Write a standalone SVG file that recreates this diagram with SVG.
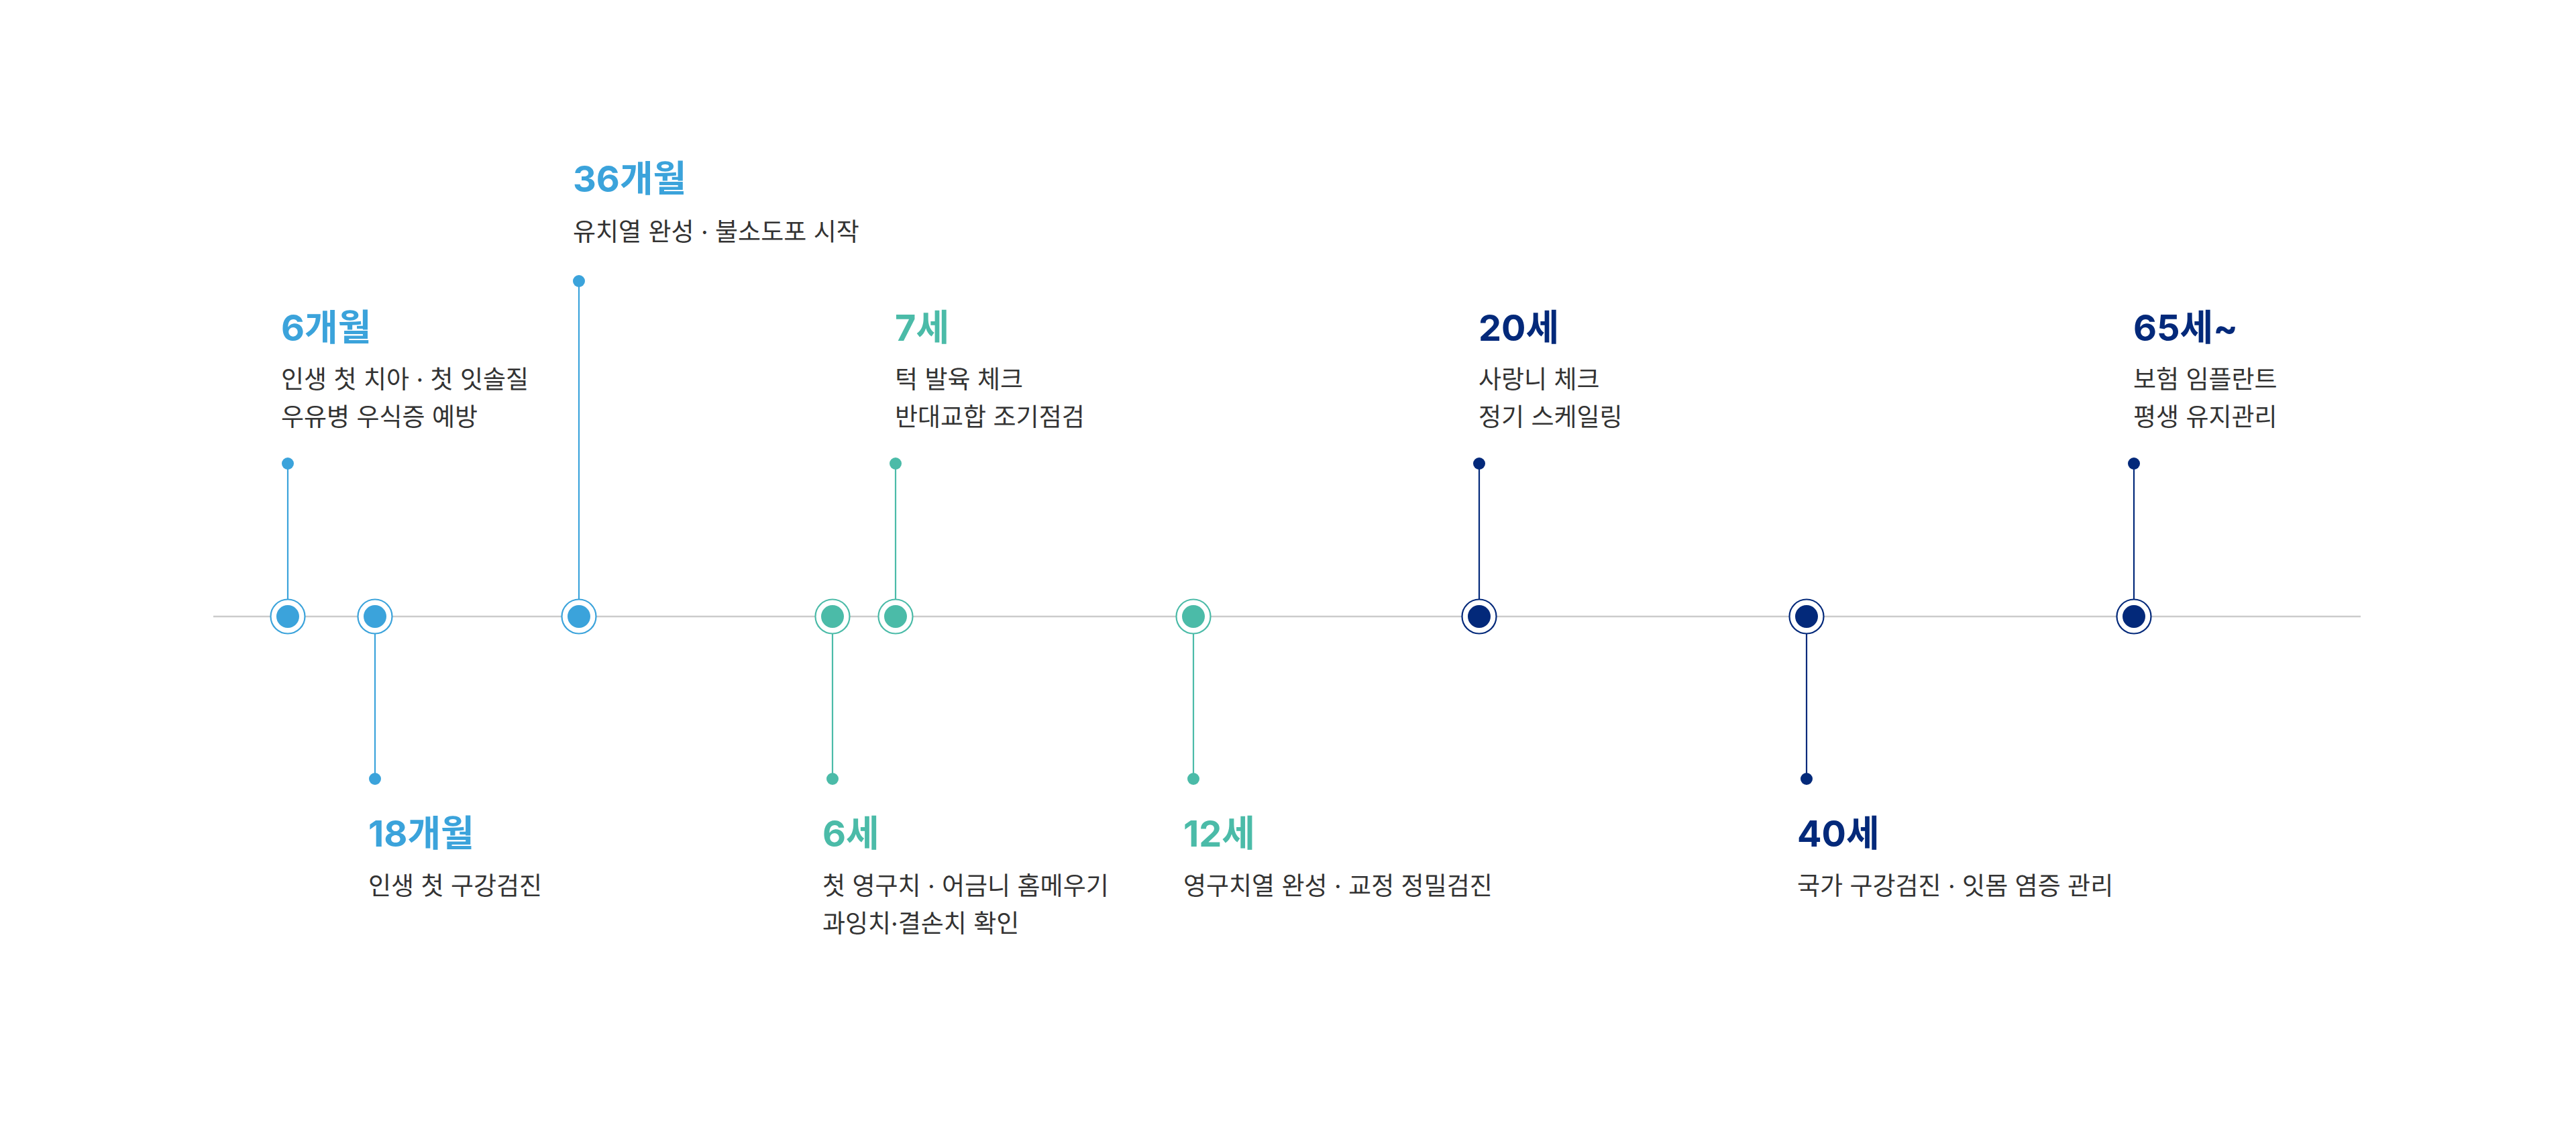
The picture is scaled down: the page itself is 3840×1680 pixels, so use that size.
<svg xmlns="http://www.w3.org/2000/svg" width="3840" height="1680" viewBox="0 0 3840 1680">
<style>
.axis{stroke:#cccccc;stroke-width:2.5;fill:none}
.ring{fill:#ffffff;stroke-width:2.2}
.stem{stroke-width:2.2;fill:none}
.t{font-family:Inter,'Noto Sans CJK KR',sans-serif;font-weight:700;font-size:54px}
.d{font-family:Inter,'Noto Sans CJK KR',sans-serif;font-weight:400;font-size:37px;fill:#333333}
.blue{fill:#3ba3db}
.teal{fill:#4bbba8}
.navy{fill:#03297a}
.sblue{stroke:#3ba3db}
.steal{stroke:#4bbba8}
.snavy{stroke:#03297a}
</style>
<rect width="3840" height="1680" fill="#ffffff"/>
<g id="timeline-axis">
<line class="axis" x1="318" y1="919" x2="3519" y2="919"/>
</g>
<g id="connectors">
<line class="stem sblue" x1="429" y1="691" x2="429" y2="893"/>
<line class="stem sblue" x1="559" y1="945" x2="559" y2="1161"/>
<line class="stem sblue" x1="863" y1="419" x2="863" y2="893"/>
<line class="stem steal" x1="1241" y1="945" x2="1241" y2="1161"/>
<line class="stem steal" x1="1335" y1="691" x2="1335" y2="893"/>
<line class="stem steal" x1="1779" y1="945" x2="1779" y2="1161"/>
<line class="stem snavy" x1="2205" y1="691" x2="2205" y2="893"/>
<line class="stem snavy" x1="2693" y1="945" x2="2693" y2="1161"/>
<line class="stem snavy" x1="3181" y1="691" x2="3181" y2="893"/>
</g>
<g id="node-6m">
<circle class="ring sblue" cx="429" cy="919" r="25.5"/><circle class="blue" cx="429" cy="919" r="17"/>
<circle class="blue" cx="429" cy="691" r="9"/>
<text class="t blue" x="419" y="508">6개월</text>
<text class="d" x="419" y="579">인생 첫 치아 · 첫 잇솔질</text>
<text class="d" x="419" y="635">우유병 우식증 예방</text>
</g>
<g id="node-18m">
<circle class="ring sblue" cx="559" cy="919" r="25.5"/><circle class="blue" cx="559" cy="919" r="17"/>
<circle class="blue" cx="559" cy="1161" r="9"/>
<text class="t blue" x="549" y="1262">18개월</text>
<text class="d" x="549" y="1334">인생 첫 구강검진</text>
</g>
<g id="node-36m">
<circle class="ring sblue" cx="863" cy="919" r="25.5"/><circle class="blue" cx="863" cy="919" r="17"/>
<circle class="blue" cx="863" cy="419" r="9"/>
<text class="t blue" x="854" y="286">36개월</text>
<text class="d" x="854" y="359">유치열 완성 · 불소도포 시작</text>
</g>
<g id="node-6y">
<circle class="ring steal" cx="1241" cy="919" r="25.5"/><circle class="teal" cx="1241" cy="919" r="17"/>
<circle class="teal" cx="1241" cy="1161" r="9"/>
<text class="t teal" x="1226" y="1262">6세</text>
<text class="d" x="1226" y="1334">첫 영구치 · 어금니 홈메우기</text>
<text class="d" x="1226" y="1390">과잉치·결손치 확인</text>
</g>
<g id="node-7y">
<circle class="ring steal" cx="1335" cy="919" r="25.5"/><circle class="teal" cx="1335" cy="919" r="17"/>
<circle class="teal" cx="1335" cy="691" r="9"/>
<text class="t teal" x="1334" y="508">7세</text>
<text class="d" x="1334" y="579">턱 발육 체크</text>
<text class="d" x="1334" y="635">반대교합 조기점검</text>
</g>
<g id="node-12y">
<circle class="ring steal" cx="1779" cy="919" r="25.5"/><circle class="teal" cx="1779" cy="919" r="17"/>
<circle class="teal" cx="1779" cy="1161" r="9"/>
<text class="t teal" x="1764" y="1262">12세</text>
<text class="d" x="1764" y="1334">영구치열 완성 · 교정 정밀검진</text>
</g>
<g id="node-20y">
<circle class="ring snavy" cx="2205" cy="919" r="25.5"/><circle class="navy" cx="2205" cy="919" r="17"/>
<circle class="navy" cx="2205" cy="691" r="9"/>
<text class="t navy" x="2204" y="508">20세</text>
<text class="d" x="2204" y="579">사랑니 체크</text>
<text class="d" x="2204" y="635">정기 스케일링</text>
</g>
<g id="node-40y">
<circle class="ring snavy" cx="2693" cy="919" r="25.5"/><circle class="navy" cx="2693" cy="919" r="17"/>
<circle class="navy" cx="2693" cy="1161" r="9"/>
<text class="t navy" x="2679" y="1262">40세</text>
<text class="d" x="2679" y="1334">국가 구강검진 · 잇몸 염증 관리</text>
</g>
<g id="node-65y">
<circle class="ring snavy" cx="3181" cy="919" r="25.5"/><circle class="navy" cx="3181" cy="919" r="17"/>
<circle class="navy" cx="3181" cy="691" r="9"/>
<text class="t navy" x="3180" y="508">65세~</text>
<text class="d" x="3180" y="579">보험 임플란트</text>
<text class="d" x="3180" y="635">평생 유지관리</text>
</g>
</svg>
